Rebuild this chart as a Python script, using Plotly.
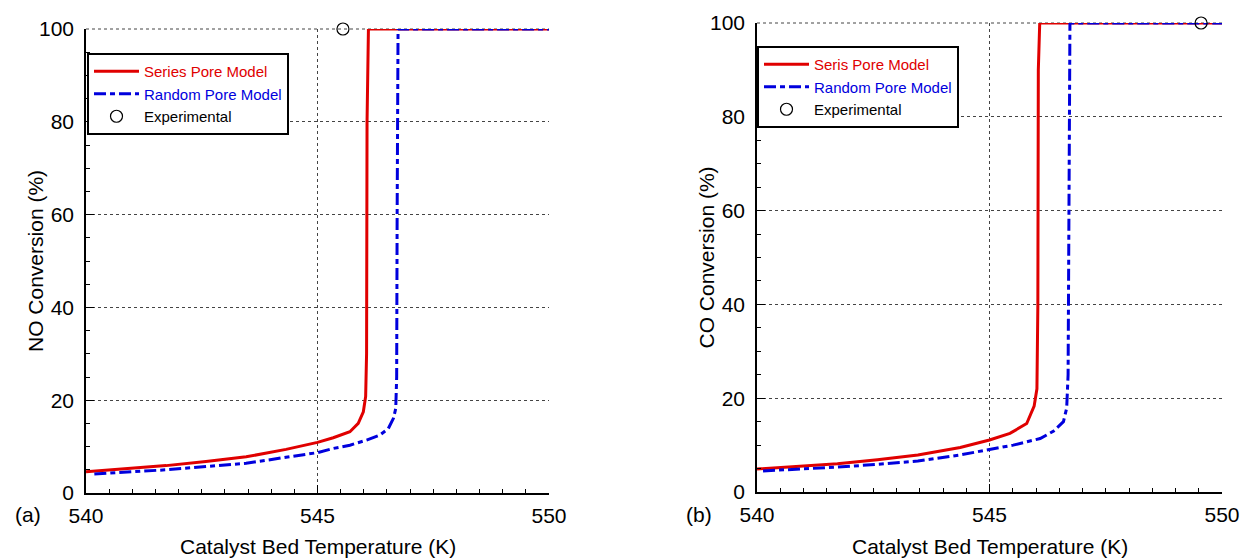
import plotly.graph_objects as go

# ---------------- data ----------------
# Panel (a): NO conversion
T_series_a = [540.0, 540.86, 541.73, 542.59, 543.46, 544.32, 545.0, 545.34, 545.7, 545.88, 545.99, 546.04, 546.06, 546.07, 546.1, 548.0, 550.0]
C_series_a = [4.6, 5.2, 5.9, 6.8, 7.8, 9.4, 10.9, 11.9, 13.2, 15.0, 17.5, 20.8, 30.0, 80.0, 100.0, 100.0, 100.0]
T_random_a = [540.18, 540.86, 541.73, 542.59, 543.46, 544.32, 545.0, 545.34, 545.7, 546.06, 546.35, 546.53, 546.64, 546.69, 546.71, 546.72, 546.74, 548.0, 550.0]
C_random_a = [4.1, 4.5, 5.0, 5.7, 6.4, 7.7, 8.7, 9.6, 10.3, 11.4, 12.5, 13.9, 16.1, 18.2, 25.0, 60.0, 100.0, 100.0, 100.0]
T_exp_a = [545.55]
C_exp_a = [100.0]

# Panel (b): CO conversion
T_series_b = [540.0, 540.86, 541.73, 542.59, 543.46, 544.37, 545.0, 545.44, 545.8, 545.96, 546.02, 546.04, 546.05, 546.08, 548.0, 550.0]
C_series_b = [4.9, 5.4, 6.0, 6.9, 7.9, 9.5, 11.1, 12.5, 14.6, 18.3, 22.0, 40.0, 90.0, 100.0, 100.0, 100.0]
T_random_b = [540.13, 540.86, 541.73, 542.59, 543.46, 544.37, 545.0, 545.51, 546.09, 546.38, 546.59, 546.66, 546.69, 546.71, 546.73, 548.0, 550.0]
C_random_b = [4.5, 4.8, 5.3, 5.9, 6.6, 7.9, 9.0, 10.0, 11.4, 13.0, 15.0, 17.9, 25.0, 60.0, 100.0, 100.0, 100.0]
T_exp_b = [549.55]
C_exp_b = [100.0]

names_a = ["Series Pore Model", "Random Pore Model", "Experimental"]
names_b = ["Seris Pore Model", "Random Pore Model", "Experimental"]
y_titles = ["NO Conversion (%)", "CO Conversion (%)"]
x_title = "Catalyst Bed Temperature (K)"
panel_labels = ["(a)", "(b)"]

RED = "#e00000"
BLUE = "#0000dd"
FONT = "Arial, Liberation Sans, sans-serif"
W, H = 1245, 560

fig = go.Figure()

def add_panel(xa, ya, Ts, Cs, Tr, Cr, Te, Ce, names, legend):
    fig.add_trace(go.Scatter(x=Ts, y=Cs, mode="lines", xaxis=xa, yaxis=ya, legend=legend,
                             line=dict(color=RED, width=3),
                             name=f'<span style="color:{RED}">{names[0]}</span>'))
    fig.add_trace(go.Scatter(x=Tr, y=Cr, mode="lines", xaxis=xa, yaxis=ya, legend=legend,
                             line=dict(color=BLUE, width=3, dash="12px,4px,5px,4px"),
                             name=f'<span style="color:{BLUE}">{names[1]}</span>'))
    fig.add_trace(go.Scatter(x=Te, y=Ce, mode="markers", xaxis=xa, yaxis=ya, legend=legend,
                             cliponaxis=False,
                             marker=dict(symbol="circle-open", size=12, color="black", line=dict(width=1.2)),
                             name=names[2]))

add_panel("x", "y", T_series_a, C_series_a, T_random_a, C_random_a, T_exp_a, C_exp_a, names_a, "legend")
add_panel("x2", "y2", T_series_b, C_series_b, T_random_b, C_random_b, T_exp_b, C_exp_b, names_b, "legend2")

# screen-pixel geometry of the two plot areas
panels = [
    dict(x0=86, x1=549, y0=29, y1=493),
    dict(x0=757, x1=1222, y0=23, y1=492),
]

def fx(px):
    return px / W

def fy(py):
    return (H - py) / H

tickfont = dict(family=FONT, size=21, color="black")
common_x = dict(range=[540, 550], tick0=540, dtick=5, ticks="inside", ticklen=8, tickwidth=1,
                tickcolor="black", showline=True, linecolor="black", linewidth=1.5,
                showgrid=True, gridcolor="#444", griddash="dot", gridwidth=1,
                zeroline=False, tickfont=tickfont, automargin=False, ticklabelstandoff=3,
                minor=dict(dtick=0.5, ticks="inside", ticklen=4, tickcolor="black", showgrid=False))
common_y = dict(range=[0, 100], tick0=0, dtick=20, ticks="inside", ticklen=8, tickwidth=1,
                tickcolor="black", showline=True, linecolor="black", linewidth=1.5,
                showgrid=True, gridcolor="#444", griddash="dot", gridwidth=1,
                zeroline=False, tickfont=tickfont, automargin=False, ticklabelstandoff=6,
                minor=dict(dtick=5, ticks="inside", ticklen=4, tickcolor="black", showgrid=False))

layout = dict(width=W, height=H, margin=dict(l=0, r=0, t=0, b=0),
              paper_bgcolor="white", plot_bgcolor="white", font=dict(family=FONT, color="black"))

suffixes = [("", ""), ("2", "2")]
over = [("3", "3"), ("4", "4")]
annotations = []
shapes = []
for i, p in enumerate(panels):
    sx, sy = suffixes[i]
    ox, oy = over[i]
    xdom = [fx(p["x0"]), fx(p["x1"])]
    ydom = [fy(p["y1"]), fy(p["y0"])]
    layout["xaxis" + sx] = dict(common_x, domain=xdom, anchor="y" + sy)
    layout["yaxis" + sy] = dict(common_y, domain=ydom, anchor="x" + sx)
    # mirrored ticks (top / right) via overlay axes
    layout["xaxis" + ox] = dict(range=[540, 550], tick0=540, dtick=5, ticks="inside", ticklen=8,
                                tickcolor="black", showticklabels=False, showgrid=False, showline=False,
                                zeroline=False, overlaying="x" + sx, anchor="y" + sy, side="top",
                                minor=dict(dtick=0.5, ticks="inside", ticklen=4, tickcolor="black"))
    layout["yaxis" + oy] = dict(range=[0, 100], tick0=0, dtick=20, ticks="inside", ticklen=8,
                                tickcolor="black", showticklabels=False, showgrid=False, showline=True,
                                linecolor="black", linewidth=1.5,
                                zeroline=False, overlaying="y" + sy, anchor="x" + sx, side="right",
                                minor=dict(dtick=5, ticks="inside", ticklen=4, tickcolor="black"))
    # dotted top frame
    shapes.append(dict(type="line", xref="paper", yref="paper", x0=xdom[0], x1=xdom[1],
                       y0=ydom[1], y1=ydom[1], line=dict(color="#444", width=1, dash="dot"), layer="below"))
    # axis titles
    cx = (p["x0"] + p["x1"]) / 2
    annotations.append(dict(text=x_title, x=fx(cx), y=fy(559), xref="paper", yref="paper",
                            showarrow=False, xanchor="center", yanchor="bottom", borderpad=0,
                            font=dict(family=FONT, size=21, color="black")))
    annotations.append(dict(text=y_titles[i], x=fx(p["x0"] - 51), y=fy((p["y0"] + p["y1"]) / 2),
                            xref="paper", yref="paper", showarrow=False, textangle=-90,
                            xanchor="center", yanchor="middle",
                            font=dict(family=FONT, size=21, color="black")))
    annotations.append(dict(text=panel_labels[i], x=fx(p["x0"] - 58), y=fy(514), xref="paper", yref="paper",
                            showarrow=False, xanchor="center", yanchor="middle",
                            font=dict(family=FONT, size=21, color="black")))

legend_style = dict(bgcolor="white", bordercolor="black", borderwidth=2,
                    font=dict(family=FONT, size=15, color="black"),
                    xanchor="left", yanchor="top", tracegroupgap=0, itemwidth=45)
layout["legend"] = dict(legend_style, x=fx(87), y=fy(53))
layout["legend2"] = dict(legend_style, x=fx(757), y=fy(46))
layout["annotations"] = annotations
layout["shapes"] = shapes
layout["showlegend"] = True

fig.update_layout(**layout)
fig.write_html("out.html", config={"displayModeBar": False},
               post_script="document.body.style.margin='0';document.body.style.overflow='hidden';")
